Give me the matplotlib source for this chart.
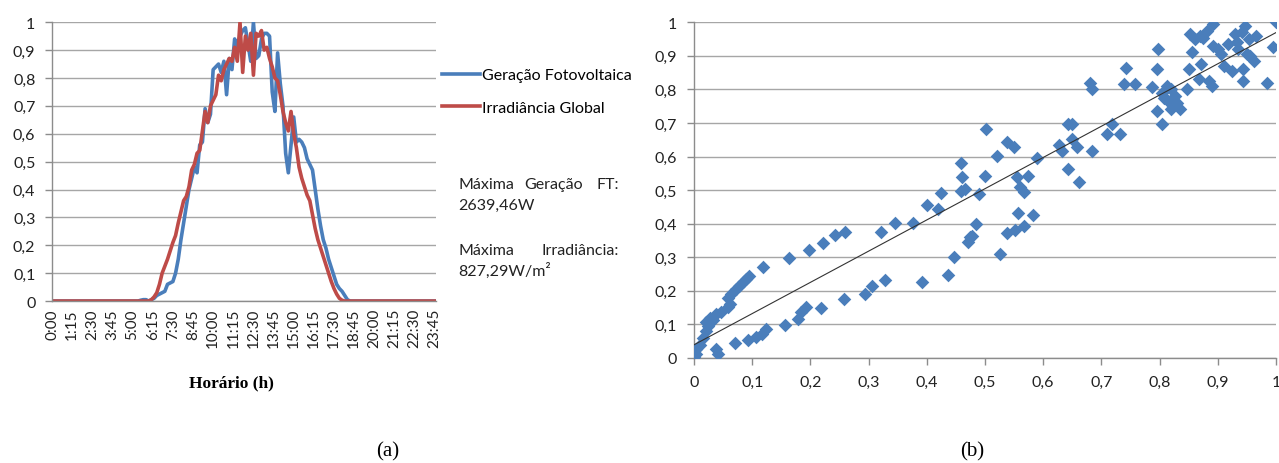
import numpy as np
import matplotlib
matplotlib.use("Agg")
import matplotlib.pyplot as plt
from matplotlib.ticker import FuncFormatter, MultipleLocator

AZUL = "#4A7EBB"
VERMELHO = "#BE4B48"
GRADE = "#a6a6a6"
EIXO = "#8c8c8c"
TEXTO = "#222222"

# 10-minute samples from 0:00 to 23:50
minutos = np.arange(0, 1440, 10)

# normalised values from 5:30 to 18:20, zero outside
geracao_dia = [
    0.003, 0.005, 0.005,
    0.0, 0.005, 0.01, 0.02, 0.025, 0.03,
    0.035, 0.06, 0.065, 0.07, 0.10, 0.15,
    0.22, 0.28, 0.34, 0.40, 0.44, 0.48,
    0.46, 0.56, 0.57, 0.69, 0.64, 0.67,
    0.83, 0.84, 0.85, 0.82, 0.86, 0.74,
    0.87, 0.83, 0.94, 0.91, 0.95, 0.97,
    0.98, 0.92, 0.86, 1.0, 0.87, 0.88,
    0.94, 0.96, 0.96, 0.95, 0.75, 0.68,
    0.89, 0.78, 0.70, 0.53, 0.46, 0.56,
    0.66, 0.57, 0.58, 0.57, 0.55, 0.51,
    0.49, 0.47, 0.40, 0.33, 0.27, 0.22,
    0.19, 0.15, 0.12, 0.09, 0.06, 0.045,
    0.035, 0.02, 0.005,
]
irradiancia_dia = [
    0.0, 0.0, 0.0,
    0.0, 0.005, 0.015, 0.03, 0.06, 0.10,
    0.125, 0.15, 0.18, 0.21, 0.235, 0.28,
    0.32, 0.36, 0.375, 0.41, 0.47, 0.49,
    0.53, 0.54, 0.61, 0.68, 0.64, 0.70,
    0.72, 0.74, 0.81, 0.79, 0.83, 0.85,
    0.87, 0.86, 0.91, 0.86, 1.0, 0.82,
    0.95, 0.90, 0.96, 0.81, 0.96, 0.95,
    0.97, 0.90, 0.91, 0.87, 0.84, 0.80,
    0.79, 0.74, 0.68, 0.64, 0.61, 0.68,
    0.60, 0.55, 0.48, 0.44, 0.41, 0.38,
    0.36, 0.31, 0.26, 0.22, 0.19, 0.16,
    0.13, 0.10, 0.07, 0.045, 0.025, 0.01,
    0.003, 0.0, 0.0,
]
noite_manha = [0.0] * 33
noite_tarde = [0.0] * 33
geracao = noite_manha + geracao_dia + noite_tarde
irradiancia = noite_manha + irradiancia_dia + noite_tarde

# scatter: irradiance (x) vs generation (y), both normalised
irr_x = [
    0.000, 0.004, 0.003, 0.010, 0.015, 0.020, 0.021, 0.024, 0.027, 0.033,
    0.038, 0.047, 0.058, 0.062, 0.058, 0.064, 0.073, 0.078, 0.084, 0.090,
    0.094, 0.119, 0.164, 0.197, 0.222, 0.242, 0.259, 0.321, 0.346, 0.376,
    0.400, 0.419, 0.425, 0.459, 0.461, 0.459, 0.466,
    0.038, 0.041, 0.070, 0.093, 0.107, 0.116, 0.124, 0.156, 0.179, 0.184,
    0.193, 0.219, 0.258, 0.293, 0.305, 0.328, 0.391, 0.437, 0.447, 0.471,
    0.475, 0.478, 0.484, 0.490, 0.500, 0.502, 0.521, 0.526, 0.537, 0.537,
    0.549, 0.552, 0.555, 0.556, 0.560, 0.567, 0.567, 0.574, 0.582, 0.590,
    0.627, 0.632, 0.643, 0.643, 0.650, 0.649, 0.658, 0.661, 0.683, 0.680,
    0.683, 0.710, 0.718, 0.732, 0.738, 0.743, 0.758, 0.787, 0.795, 0.798,
    0.795, 0.804, 0.804, 0.808, 0.812, 0.815, 0.820, 0.820, 0.826, 0.830,
    0.835, 0.847, 0.850, 0.852, 0.855, 0.860, 0.867, 0.870, 0.871, 0.875,
    0.881, 0.884, 0.890, 0.892, 0.892, 0.900, 0.905, 0.910, 0.918, 0.924,
    0.930, 0.933, 0.935, 0.941, 0.944, 0.944, 0.947, 0.950, 0.953, 0.956,
    0.962, 0.965, 0.984, 0.995, 1.000,
]
ger_y = [
    0.003, 0.012, 0.027, 0.040, 0.060, 0.080, 0.106, 0.095, 0.118, 0.112,
    0.130, 0.136, 0.152, 0.160, 0.180, 0.190, 0.205, 0.215, 0.225, 0.235,
    0.245, 0.270, 0.297, 0.321, 0.342, 0.366, 0.374, 0.376, 0.402, 0.402,
    0.457, 0.444, 0.492, 0.582, 0.538, 0.498, 0.503,
    0.027, 0.012, 0.045, 0.055, 0.063, 0.071, 0.086, 0.099, 0.116, 0.136,
    0.151, 0.149, 0.176, 0.192, 0.215, 0.233, 0.225, 0.247, 0.300, 0.344,
    0.359, 0.364, 0.400, 0.488, 0.541, 0.682, 0.602, 0.310, 0.642, 0.372,
    0.627, 0.381, 0.538, 0.432, 0.508, 0.493, 0.392, 0.541, 0.427, 0.597,
    0.634, 0.617, 0.564, 0.696, 0.698, 0.652, 0.627, 0.523, 0.617, 0.820,
    0.800, 0.667, 0.696, 0.667, 0.815, 0.865, 0.815, 0.806, 0.736, 0.920,
    0.860, 0.696, 0.790, 0.775, 0.810, 0.766, 0.741, 0.800, 0.781, 0.760,
    0.741, 0.800, 0.860, 0.964, 0.910, 0.950, 0.830, 0.960, 0.875, 0.954,
    0.974, 0.825, 0.810, 0.994, 0.930, 0.920, 0.905, 0.870, 0.935, 0.855,
    0.965, 0.940, 0.920, 0.970, 0.825, 0.860, 0.990, 0.905, 0.950, 0.900,
    0.885, 0.960, 0.820, 0.925, 1.000,
]

rotulos_hora = ["%d:%02d" % (m // 60, m % 60) for m in range(0, 1440, 75)]

plt.rcParams["font.family"] = ["Lato", "DejaVu Sans"]
TAM = 11.5


def virgula(v, pos):
    s = "%.1f" % v
    if s.endswith(".0"):
        s = s[:-2]
    return s.replace(".", ",")


def estilo(ax):
    ax.set_ylim(0, 1)
    ax.yaxis.set_major_locator(MultipleLocator(0.1))
    ax.yaxis.set_major_formatter(FuncFormatter(virgula))
    ax.grid(axis="y", color=GRADE, linewidth=1.0)
    ax.set_axisbelow(True)
    for lado in ("top", "right"):
        ax.spines[lado].set_visible(False)
    for lado in ("left", "bottom"):
        ax.spines[lado].set_color(EIXO)
        ax.spines[lado].set_linewidth(1.0)
    ax.tick_params(axis="y", direction="out", length=5, width=1, color=EIXO,
                   labelsize=TAM, pad=7, labelcolor=TEXTO)


def px(x, y):
    return x / 1279, 1 - y / 464


fig = plt.figure(figsize=(12.79, 4.64), dpi=100)

# (a) daily curves
ax1 = fig.add_axes([0.0407, 0.349, 0.3002, 0.601])
estilo(ax1)
ax1.plot(minutos, geracao, color=AZUL, linewidth=2.6, label="Geração Fotovoltaica")
ax1.plot(minutos, irradiancia, color=VERMELHO, linewidth=2.6, label="Irradiância Global")
ax1.set_xlim(0, 1430)
ax1.set_xticks(range(0, 1440, 75))
ax1.set_xticklabels(rotulos_hora, rotation=90, va="top", ha="center")
ax1.tick_params(axis="x", length=0, pad=5, labelsize=TAM - 0.5, labelcolor=TEXTO)

ax1.legend(loc="upper left", bbox_to_anchor=px(442, 69),
           bbox_transform=fig.transFigure, frameon=False, fontsize=TAM,
           handlelength=2.4, handletextpad=0.1, labelspacing=1.15,
           borderpad=0, borderaxespad=0)

# justified text box beside the legend
for x, y, s, ha in [
    (458, 185, "Máxima", "left"),
    (554, 185, "Geração", "center"),
    (619, 185, "FT:", "right"),
    (458, 206, "2639,46W", "left"),
    (458, 251, "Máxima", "left"),
    (619, 251, "Irradiância:", "right"),
    (458, 271, "827,29W/m²", "left"),
]:
    fig.text(*px(x, y), s, fontsize=TAM, va="center", ha=ha, color=TEXTO)

fig.text(*px(231, 383), "Horário (h)", fontsize=12.5, fontweight="bold",
         family="Liberation Serif", ha="center", va="center")

# (b) generation vs irradiance
ax2 = fig.add_axes([0.5426, 0.2263, 0.4551, 0.7237])
estilo(ax2)
ax2.scatter(irr_x, ger_y, marker="D", s=48, color=AZUL, linewidths=0, zorder=3)
coef = np.polyfit(irr_x, ger_y, 1)
reta_x = np.array([0.0, 1.0])
ax2.plot(reta_x, np.polyval(coef, reta_x), color="#333333", linewidth=0.8, zorder=4)
ax2.set_xlim(0, 1)
ax2.xaxis.set_major_locator(MultipleLocator(0.1))
ax2.xaxis.set_major_formatter(FuncFormatter(virgula))
ax2.tick_params(axis="x", direction="out", length=5, width=1, color=EIXO,
                labelsize=TAM, pad=7, labelcolor=TEXTO)
for rot in ax2.get_xticklabels() + ax2.get_yticklabels():
    rot.set_clip_on(False)

fig.text(*px(388, 452), "(a)", fontsize=15, family="Liberation Serif",
         ha="center", va="center")
fig.text(*px(972, 452), "(b)", fontsize=15, family="Liberation Serif",
         ha="center", va="center")

fig.savefig("out.png", dpi=100)
